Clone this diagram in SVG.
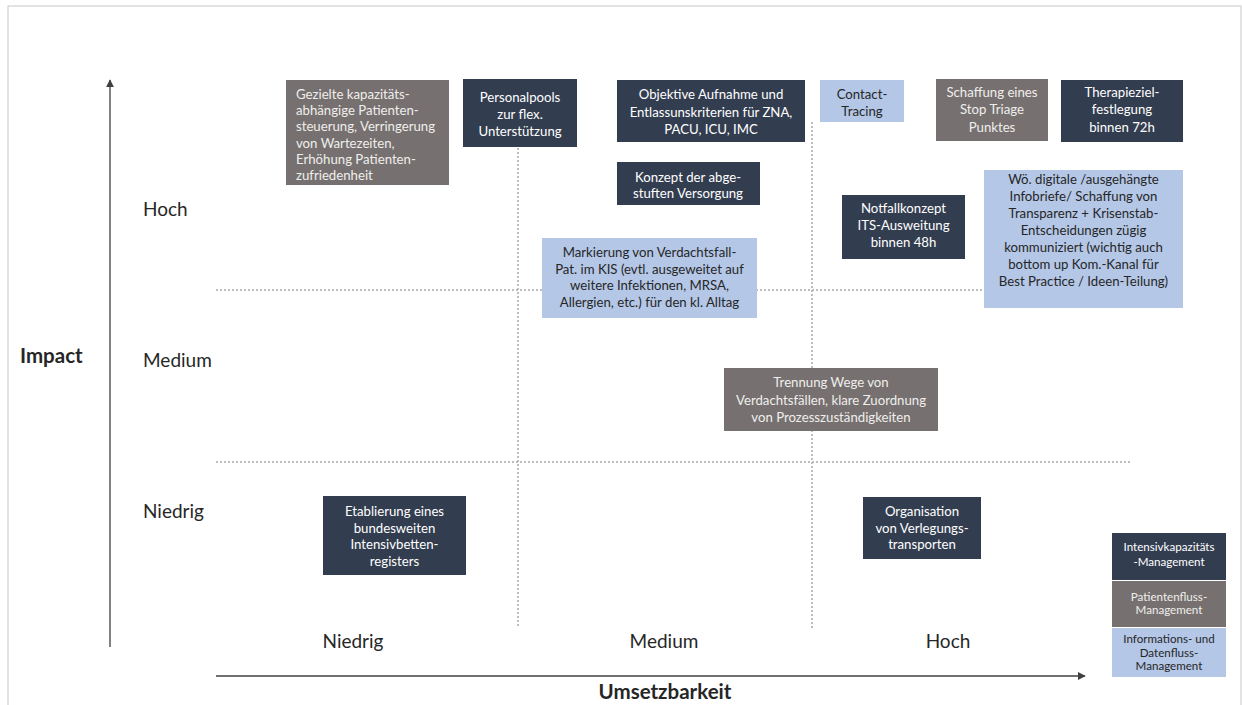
<svg xmlns="http://www.w3.org/2000/svg" width="1242" height="705" viewBox="0 0 1242 705">
<style>
.t{font-family:Lato,"Open Sans",sans-serif;font-size:13.2px;text-anchor:middle}
.w{fill:#ffffff}
.g{fill:#f0eeec}
.k{fill:#262626}
.dk{fill:#333d50}
.gy{fill:#767170}
.bl{fill:#b4c7e7}
.lg{font-family:Lato,"Open Sans",sans-serif;font-size:11.6px;text-anchor:middle}
.ax{font-family:Lato,"Open Sans",sans-serif;font-size:19px;fill:#262626}
.axb{font-family:Lato,"Open Sans",sans-serif;font-size:20.5px;font-weight:bold;fill:#262626}
.dot{stroke:#bdbdbd;stroke-width:2;stroke-dasharray:2 2;fill:none}
.axis{stroke:#404040;stroke-width:1.3;fill:none}
</style>
<defs>
<marker id="ah" viewBox="0 0 10 10" refX="9" refY="5" markerWidth="8" markerHeight="8" markerUnits="userSpaceOnUse" orient="auto"><path d="M0,0 L10,5 L0,10 z" fill="#404040"/></marker>
</defs>
<rect x="0" y="0" width="1242" height="705" fill="#ffffff"/>
<rect x="8" y="6" width="1233" height="710" fill="none" stroke="#c8c8c8" stroke-width="1"/>
<g id="connectors">
<line class="axis" x1="110" y1="647" x2="110" y2="80" marker-end="url(#ah)"/>
<line class="axis" x1="216" y1="676" x2="1085" y2="676" marker-end="url(#ah)"/>
<line class="dot" x1="216" y1="290" x2="985" y2="290"/>
<line class="dot" x1="216" y1="462" x2="1130" y2="462"/>
<line class="dot" x1="518" y1="148" x2="518" y2="628"/>
<line class="dot" x1="812" y1="122" x2="812" y2="628"/>
</g>
<g id="axis-labels">
<text class="axb" x="20" y="363">Impact</text>
<text class="ax" x="143" y="216">Hoch</text>
<text class="ax" x="143" y="367">Medium</text>
<text class="ax" x="143" y="518">Niedrig</text>
<text class="ax" x="353" y="648" text-anchor="middle">Niedrig</text>
<text class="ax" x="664" y="648" text-anchor="middle">Medium</text>
<text class="ax" x="948" y="648" text-anchor="middle">Hoch</text>
<text class="axb" x="665" y="699" text-anchor="middle">Umsetzbarkeit</text>
</g>
<g id="n1">
<rect class="gy" x="286" y="80" width="163" height="105"/>
<text class="t g" style="text-anchor:start" x="296" y="99">Gezielte kapazitäts-<tspan x="296" dy="16.2">abhängige Patienten-</tspan><tspan x="296" dy="16.2">steuerung, Verringerung</tspan><tspan x="296" dy="16.2">von Wartezeiten,</tspan><tspan x="296" dy="16.2">Erhöhung Patienten-</tspan><tspan x="296" dy="16.2">zufriedenheit</tspan></text>
</g>
<g id="n2">
<rect class="dk" x="463" y="79" width="114" height="68"/>
<text class="t w" x="520" y="102">Personalpools<tspan x="520" dy="17">zur flex.</tspan><tspan x="520" dy="17">Unterstützung</tspan></text>
</g>
<g id="n3">
<rect class="dk" x="617" y="80" width="188" height="62"/>
<text class="t w" x="711" y="99">Objektive Aufnahme und<tspan x="711" dy="17.5">Entlassunskriterien für ZNA,</tspan><tspan x="711" dy="17.5">PACU, ICU, IMC</tspan></text>
</g>
<g id="n4">
<rect class="bl" x="820" y="80" width="84" height="42"/>
<text class="t k" x="862" y="99">Contact-<tspan x="862" dy="17">Tracing</tspan></text>
</g>
<g id="n5">
<rect class="dk" x="617" y="162" width="143" height="43"/>
<text class="t w" x="688" y="182">Konzept der abge-<tspan x="688" dy="15.5">stuften Versorgung</tspan></text>
</g>
<g id="n6">
<rect class="gy" x="936" y="79" width="112" height="62"/>
<text class="t g" x="992" y="97">Schaffung eines<tspan x="992" dy="17.3">Stop Triage</tspan><tspan x="992" dy="17.3">Punktes</tspan></text>
</g>
<g id="n7">
<rect class="dk" x="1061" y="80" width="122" height="62"/>
<text class="t w" x="1122" y="97">Therapieziel-<tspan x="1122" dy="17.3">festlegung</tspan><tspan x="1122" dy="17.3">binnen 72h</tspan></text>
</g>
<g id="n8">
<rect class="bl" x="984" y="170" width="199" height="138"/>
<text class="t k" x="1083.5" y="184">Wö. digitale /ausgehängte<tspan x="1083.5" dy="17">Infobriefe/ Schaffung von</tspan><tspan x="1083.5" dy="17">Transparenz + Krisenstab-</tspan><tspan x="1083.5" dy="17">Entscheidungen zügig</tspan><tspan x="1083.5" dy="17">kommuniziert (wichtig auch</tspan><tspan x="1083.5" dy="17">bottom up Kom.-Kanal für</tspan><tspan x="1083.5" dy="17">Best Practice / Ideen-Teilung)</tspan></text>
</g>
<g id="n9">
<rect class="dk" x="842" y="195" width="123" height="64"/>
<text class="t w" x="903.5" y="213">Notfallkonzept<tspan x="903.5" dy="17">ITS-Ausweitung</tspan><tspan x="903.5" dy="17">binnen 48h</tspan></text>
</g>
<g id="n10">
<rect class="bl" x="542" y="238" width="215" height="80"/>
<text class="t k" x="649.5" y="257">Markierung von Verdachtsfall-<tspan x="649.5" dy="16.5">Pat. im KIS (evtl. ausgeweitet auf</tspan><tspan x="649.5" dy="16.5">weitere Infektionen, MRSA,</tspan><tspan x="649.5" dy="16.5">Allergien, etc.) für den kl. Alltag</tspan></text>
</g>
<g id="n11">
<rect class="gy" x="724" y="368" width="214" height="63"/>
<text class="t g" x="831" y="387">Trennung Wege von<tspan x="831" dy="17.5">Verdachtsfällen, klare Zuordnung</tspan><tspan x="831" dy="17.5">von Prozesszuständigkeiten</tspan></text>
</g>
<g id="n12">
<rect class="dk" x="323" y="496" width="143" height="79"/>
<text class="t w" x="394.5" y="516">Etablierung eines<tspan x="394.5" dy="16.7">bundesweiten</tspan><tspan x="394.5" dy="16.7">Intensivbetten-</tspan><tspan x="394.5" dy="16.7">registers</tspan></text>
</g>
<g id="n13">
<rect class="dk" x="863" y="497" width="118" height="62"/>
<text class="t w" x="922" y="516">Organisation<tspan x="922" dy="16.5">von Verlegungs-</tspan><tspan x="922" dy="16.5">transporten</tspan></text>
</g>
<g id="legend-intensiv">
<rect class="dk" x="1112" y="533" width="114" height="47"/>
<text class="lg w" x="1169" y="551">Intensivkapazitäts<tspan x="1169" dy="15">-Management</tspan></text>
</g>
<g id="legend-patientenfluss">
<rect class="gy" x="1112" y="581" width="114" height="46"/>
<text class="lg g" x="1169" y="601">Patientenfluss-<tspan x="1169" dy="13">Management</tspan></text>
</g>
<g id="legend-information">
<rect class="bl" x="1112" y="628" width="114" height="49"/>
<text class="lg k" x="1169" y="643">Informations- und<tspan x="1169" dy="13.5">Datenfluss-</tspan><tspan x="1169" dy="13.5">Management</tspan></text>
</g>
</svg>
